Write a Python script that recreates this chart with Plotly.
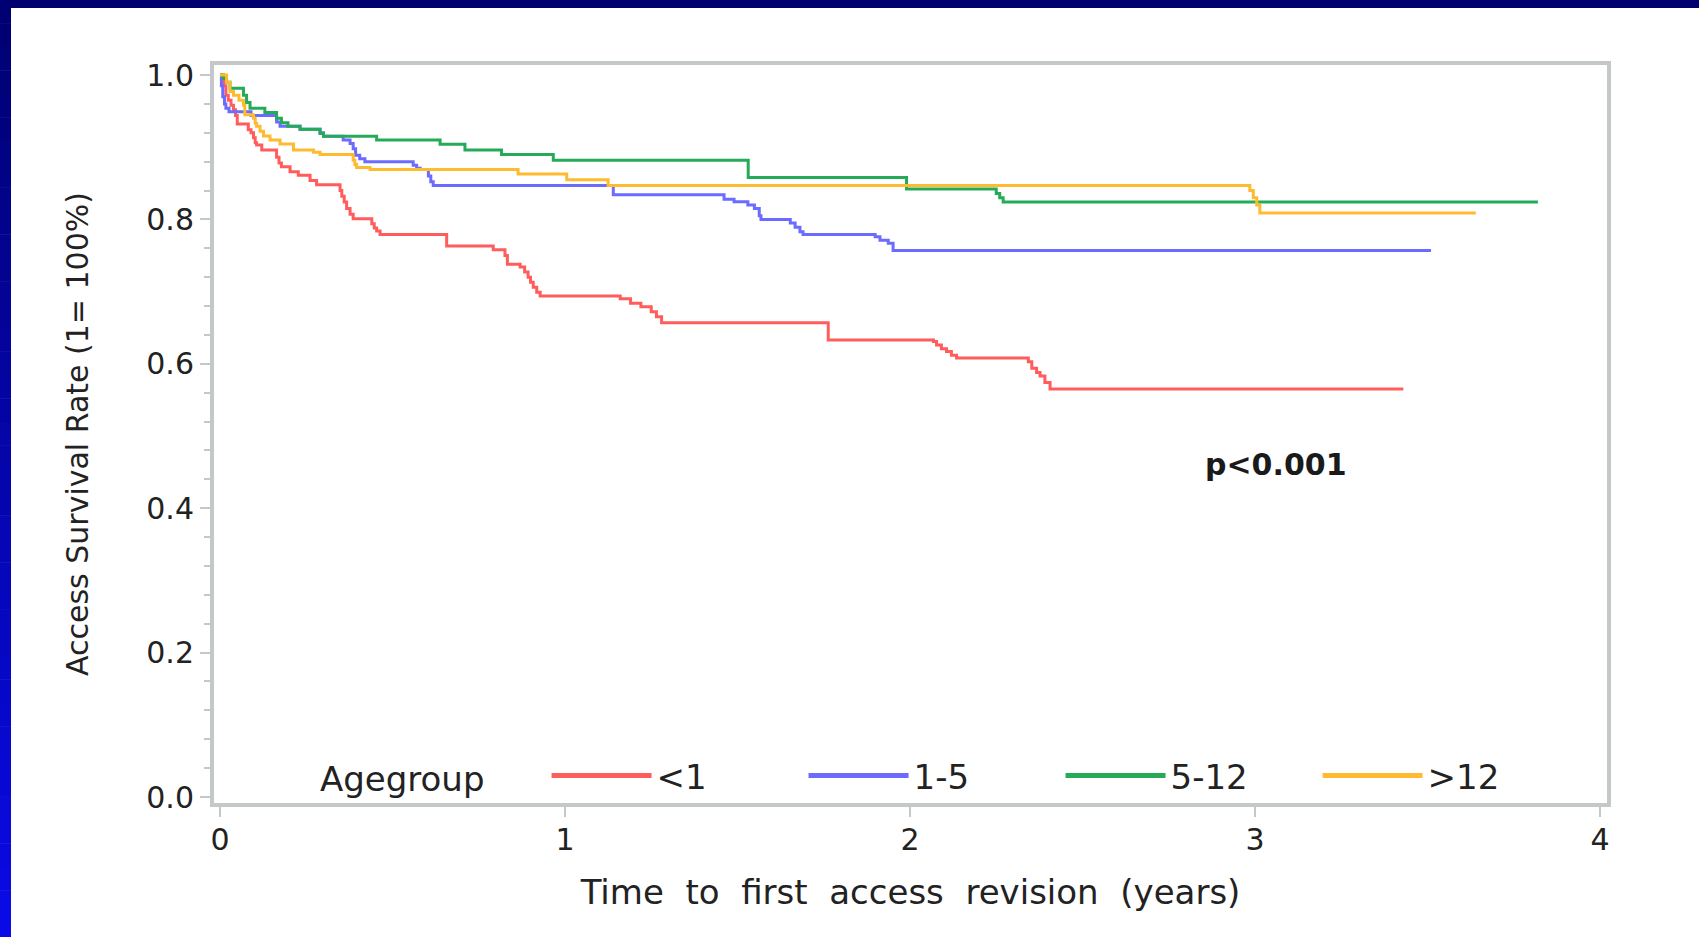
import plotly.graph_objects as go

# ---------------- data ----------------
GROUPS = ["<1", "1-5", "5-12", ">12"]
COLORS = ["#ff5c5c", "#6b6bff", "#25ab58", "#ffbb30"]

RED_T = [0, 0.01, 0.017, 0.024, 0.032, 0.039, 0.045, 0.05, 0.082, 0.09, 0.097, 0.102, 0.106,
         0.121, 0.164, 0.171, 0.178, 0.203, 0.227, 0.261, 0.28, 0.348, 0.353, 0.36, 0.367,
         0.377, 0.386, 0.44, 0.447, 0.454, 0.464, 0.657, 0.792, 0.826, 0.833, 0.87, 0.883,
         0.893, 0.9, 0.908, 0.918, 0.928, 1.16, 1.19, 1.22, 1.25, 1.265, 1.28, 1.763, 2.068,
         2.077, 2.091, 2.106, 2.12, 2.135, 2.343, 2.353, 2.367, 2.377, 2.391, 2.406, 3.43]
RED_S = [1.0, 0.985, 0.972, 0.965, 0.958, 0.952, 0.944, 0.932, 0.924, 0.92, 0.913, 0.906, 0.903,
         0.896, 0.886, 0.878, 0.873, 0.866, 0.861, 0.854, 0.848, 0.84, 0.832, 0.824, 0.815,
         0.807, 0.801, 0.794, 0.788, 0.784, 0.779, 0.763, 0.758, 0.75, 0.738, 0.734, 0.727,
         0.72, 0.713, 0.706, 0.699, 0.694, 0.69, 0.684, 0.679, 0.672, 0.665, 0.657, 0.633, 0.631,
         0.626, 0.621, 0.617, 0.612, 0.608, 0.603, 0.594, 0.588, 0.583, 0.574, 0.565, 0.565]

BLUE_T = [0, 0.004, 0.008, 0.013, 0.017, 0.026, 0.09, 0.164, 0.174, 0.232, 0.29, 0.30, 0.357,
          0.377, 0.386, 0.393, 0.405, 0.42, 0.56, 0.57, 0.58, 0.604, 0.611, 0.618, 1.14, 1.461,
          1.49, 1.53, 1.549, 1.563, 1.568, 1.653, 1.667, 1.681, 1.69, 1.899, 1.913, 1.937,
          1.951, 3.51]
BLUE_S = [1.0, 0.985, 0.97, 0.96, 0.954, 0.949, 0.944, 0.935, 0.929, 0.925, 0.92, 0.915, 0.91,
          0.905, 0.898, 0.889, 0.884, 0.88, 0.875, 0.871, 0.869, 0.86, 0.852, 0.847, 0.834, 0.828,
          0.8245, 0.82, 0.815, 0.805, 0.80, 0.795, 0.789, 0.783, 0.779, 0.776, 0.771, 0.767,
          0.757, 0.757]

GREEN_T = [0, 0.01, 0.019, 0.029, 0.068, 0.077, 0.087, 0.13, 0.164, 0.178, 0.197, 0.232, 0.29,
           0.30, 0.454, 0.638, 0.71, 0.816, 0.966, 1.531, 1.99, 2.25, 2.26, 2.27, 3.82]
GREEN_S = [1.0, 0.995, 0.99, 0.9815, 0.972, 0.962, 0.954, 0.948, 0.94, 0.934, 0.929, 0.925, 0.919,
           0.915, 0.91, 0.904, 0.896, 0.89, 0.882, 0.858, 0.842, 0.836, 0.83, 0.824, 0.824]

ORANGE_T = [0, 0.019, 0.029, 0.039, 0.055, 0.068, 0.072, 0.097, 0.102, 0.106, 0.116, 0.126, 0.145,
            0.174, 0.213, 0.271, 0.29, 0.386, 0.391, 0.396, 0.435, 0.864, 1.005, 1.125, 2.985,
            2.995, 3.005, 3.014, 3.64]
ORANGE_S = [1.0, 0.99, 0.977, 0.972, 0.965, 0.958, 0.945, 0.94, 0.933, 0.929, 0.922, 0.9155, 0.91,
            0.9044, 0.896, 0.893, 0.89, 0.882, 0.876, 0.872, 0.869, 0.863, 0.855, 0.847, 0.84,
            0.83, 0.82, 0.809, 0.809]

SERIES_T = [RED_T, BLUE_T, GREEN_T, ORANGE_T]
SERIES_S = [RED_S, BLUE_S, GREEN_S, ORANGE_S]

X_TICKS = [0, 1, 2, 3, 4]
Y_TICKS = [0.0, 0.2, 0.4, 0.6, 0.8, 1.0]
X_TITLE = "Time  to  first  access  revision  (years)"
Y_TITLE = "Access Survival Rate (1= 100%)"
LEGEND_TITLE = "Agegroup"
P_TEXT = "p<0.001"
P_POS = (3.06, 0.46)

# ---------------- figure ----------------
W, H = 1699, 937
ML, MR, MT, MB = 214, 92, 65, 134
PW, PH = W - ML - MR, H - MT - MB
FONT = "DejaVu Sans, Verdana, sans-serif"
FRAME = "#c4c8c8"
TXT = "#222222"

fig = go.Figure()
for name, col, t, s in zip(GROUPS, COLORS, SERIES_T, SERIES_S):
    fig.add_trace(go.Scatter(x=t, y=s, mode="lines", line=dict(color=col, width=3, shape="hv"),
                             name=name, showlegend=False, hoverinfo="skip"))
for name, col in zip(GROUPS, COLORS):
    fig.add_trace(go.Scatter(x=[None], y=[None], mode="lines", line=dict(color=col, width=5),
                             name=name, showlegend=True))


def px_to_paper_x(px):
    return (px - ML) / PW


def px_to_paper_y(py):
    return (H - MB - py) / PH


# decorative blue border (top band + left band with gradient)
shapes = [dict(type="rect", xref="paper", yref="paper", layer="above",
               x0=px_to_paper_x(0), x1=px_to_paper_x(W), y0=px_to_paper_y(8), y1=px_to_paper_y(0),
               fillcolor="#000070", line=dict(width=0))]
N = 40
c0, c1 = (0, 0, 112), (10, 10, 232)
for i in range(N):
    f = (i + 0.5) / N
    col = "rgb(%d,%d,%d)" % tuple(round(a + (b - a) * f) for a, b in zip(c0, c1))
    shapes.append(dict(type="rect", xref="paper", yref="paper", layer="above",
                       x0=px_to_paper_x(0), x1=px_to_paper_x(11),
                       y0=px_to_paper_y(H * (i + 1) / N + 0.5), y1=px_to_paper_y(H * i / N),
                       fillcolor=col, line=dict(width=0)))

fig.update_layout(
    width=W, height=H,
    margin=dict(l=ML, r=MR, t=MT, b=MB, autoexpand=False),
    paper_bgcolor="white", plot_bgcolor="white",
    font=dict(family=FONT, color=TXT),
    shapes=shapes,
    showlegend=True,
    legend=dict(orientation="h", x=px_to_paper_x(318), y=px_to_paper_y(776),
                xanchor="left", yanchor="middle",
                title=dict(text=LEGEND_TITLE + "\u00a0" * 5, font=dict(size=34, family=FONT, color=TXT)),
                font=dict(size=34, family=FONT, color=TXT),
                bgcolor="rgba(0,0,0,0)", itemwidth=100, entrywidth=142,
                tracegroupgap=0),
    annotations=[dict(text="<b>%s</b>" % P_TEXT, x=P_POS[0], y=P_POS[1], xref="x", yref="y",
                      showarrow=False, font=dict(size=30, family=FONT, color="#1a1a1a"))],
)

fig.update_xaxes(range=[-0.0174, 4.0203], tickvals=X_TICKS, ticktext=[str(v) for v in X_TICKS],
                 showgrid=False, zeroline=False, showline=True, linecolor=FRAME, linewidth=4,
                 mirror=True, ticks="outside", ticklen=10, tickwidth=2, tickcolor=FRAME,
                 ticklabelstandoff=-3,
                 tickfont=dict(size=30, family=FONT, color=TXT),
                 title=dict(text=X_TITLE, font=dict(size=34, family=FONT, color=TXT), standoff=25))
fig.update_yaxes(range=[-0.0083, 1.01385], tickvals=Y_TICKS, tickformat=".1f",
                 showgrid=False, zeroline=False, showline=True, linecolor=FRAME, linewidth=4,
                 mirror=True, ticks="outside", ticklen=10, tickwidth=2, tickcolor=FRAME,
                 tickfont=dict(size=30, family=FONT, color=TXT),
                 minor=dict(dtick=0.04, tick0=0, ticks="outside", ticklen=6, tickwidth=2,
                            tickcolor=FRAME, showgrid=False),
                 title=dict(text=Y_TITLE + "\u00a0", font=dict(size=30, family=FONT, color=TXT),
                            standoff=50))

fig.write_html("out.html", config={"displayModeBar": False},
               post_script="document.body.style.margin='0';document.body.style.overflow='hidden';")
